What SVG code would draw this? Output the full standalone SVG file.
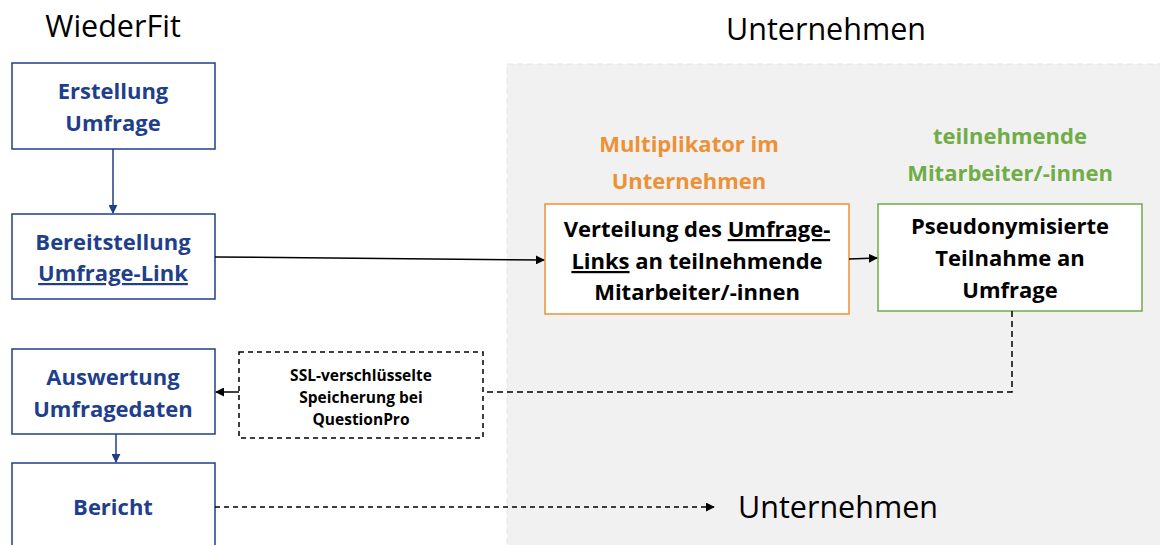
<svg xmlns="http://www.w3.org/2000/svg" width="1160" height="545" viewBox="0 0 1160 545">
<defs>
<style>
.t{font-family:"Open Sans","Liberation Sans",sans-serif}
.b{font-weight:bold}
.blue{fill:#1f3f8c}
.box{fill:#fff;stroke:#1f3f8c;stroke-width:1.5}
.lbl{font-size:22px;text-anchor:middle}
.big{font-size:30.5px;fill:#000}
</style>
<marker id="ab" viewBox="0 0 10 10" refX="9" refY="5" markerWidth="9" markerHeight="9" markerUnits="userSpaceOnUse" orient="auto"><path d="M0,0 L10,5 L0,10 z" fill="#1f3f8c"/></marker>
<marker id="ak" viewBox="0 0 10 10" refX="9" refY="5" markerWidth="9" markerHeight="9" markerUnits="userSpaceOnUse" orient="auto"><path d="M0,0 L10,5 L0,10 z" fill="#000"/></marker>
</defs>
<rect width="1160" height="545" fill="#fff"/>
<rect x="507" y="64" width="660" height="490" fill="#f1f1f1" stroke="#e6e6e6" stroke-dasharray="6 4"/>
<text class="t big" x="113" y="37" text-anchor="middle">WiederFit</text>
<text class="t big" x="826" y="40" text-anchor="middle">Unternehmen</text>
<text class="t b lbl" x="689" y="152" fill="#ed9136">Multiplikator im</text>
<text class="t b lbl" x="689" y="189" fill="#ed9136">Unternehmen</text>
<text class="t b lbl" x="1010" y="144" fill="#70ad47">teilnehmende</text>
<text class="t b lbl" x="1010" y="181" fill="#70ad47">Mitarbeiter/-innen</text>
<g id="erstellung"><rect class="box" x="12" y="63" width="203" height="86"/><text class="t b lbl blue" x="113" y="99">Erstellung</text><text class="t b lbl blue" x="113" y="131">Umfrage</text></g>
<g id="bereitstellung"><rect class="box" x="12" y="214" width="203" height="85"/><text class="t b lbl blue" x="113" y="250">Bereitstellung</text><text class="t b lbl blue" x="113" y="281" text-decoration="underline">Umfrage-Link</text></g>
<g id="auswertung"><rect class="box" x="12" y="349" width="203" height="85"/><text class="t b lbl blue" x="113" y="385">Auswertung</text><text class="t b lbl blue" x="113" y="417">Umfragedaten</text></g>
<g id="bericht"><rect class="box" x="12" y="463" width="203" height="95"/><text class="t b lbl blue" x="113" y="515">Bericht</text></g>
<g id="ssl"><rect x="239" y="352" width="244" height="86" fill="#fff" stroke="#000" stroke-width="1.5" stroke-dasharray="5 4"/><text class="t b" font-size="15.5" text-anchor="middle" x="361" y="381">SSL-verschlüsselte</text><text class="t b" font-size="15.5" text-anchor="middle" x="361" y="403">Speicherung bei</text><text class="t b" font-size="15.5" text-anchor="middle" x="361" y="425">QuestionPro</text></g>
<g id="verteilung"><rect x="545" y="204" width="304" height="110" fill="#fff" stroke="#ed9136" stroke-width="1.5"/><text class="t b lbl" x="697" y="237">Verteilung des <tspan text-decoration="underline">Umfrage-</tspan></text><text class="t b lbl" x="697" y="269"><tspan text-decoration="underline">Links</tspan> an teilnehmende</text><text class="t b lbl" x="697" y="300">Mitarbeiter/-innen</text></g>
<g id="teilnahme"><rect x="878" y="204" width="264" height="107" fill="#fff" stroke="#70ad47" stroke-width="1.5"/><text class="t b lbl" x="1010" y="234">Pseudonymisierte</text><text class="t b lbl" x="1010" y="266">Teilnahme an</text><text class="t b lbl" x="1010" y="298">Umfrage</text></g>
<text class="t big" x="738" y="518">Unternehmen</text>
<g id="connectors" fill="none" stroke-width="1.5">
<line x1="113" y1="149" x2="113" y2="213" stroke="#1f3f8c" marker-end="url(#ab)"/>
<line x1="116" y1="434" x2="116" y2="462" stroke="#1f3f8c" marker-end="url(#ab)"/>
<line x1="215" y1="257" x2="544" y2="260" stroke="#000" marker-end="url(#ak)"/>
<line x1="849" y1="259" x2="877" y2="258" stroke="#000" marker-end="url(#ak)"/>
<polyline points="1012,311 1012,392 483,392" stroke="#000" stroke-dasharray="6 4"/>
<line x1="239" y1="392" x2="216" y2="392" stroke="#000" marker-end="url(#ak)"/>
<line x1="215" y1="507" x2="714" y2="507" stroke="#000" stroke-dasharray="5 4" marker-end="url(#ak)"/>
</g>
</svg>
